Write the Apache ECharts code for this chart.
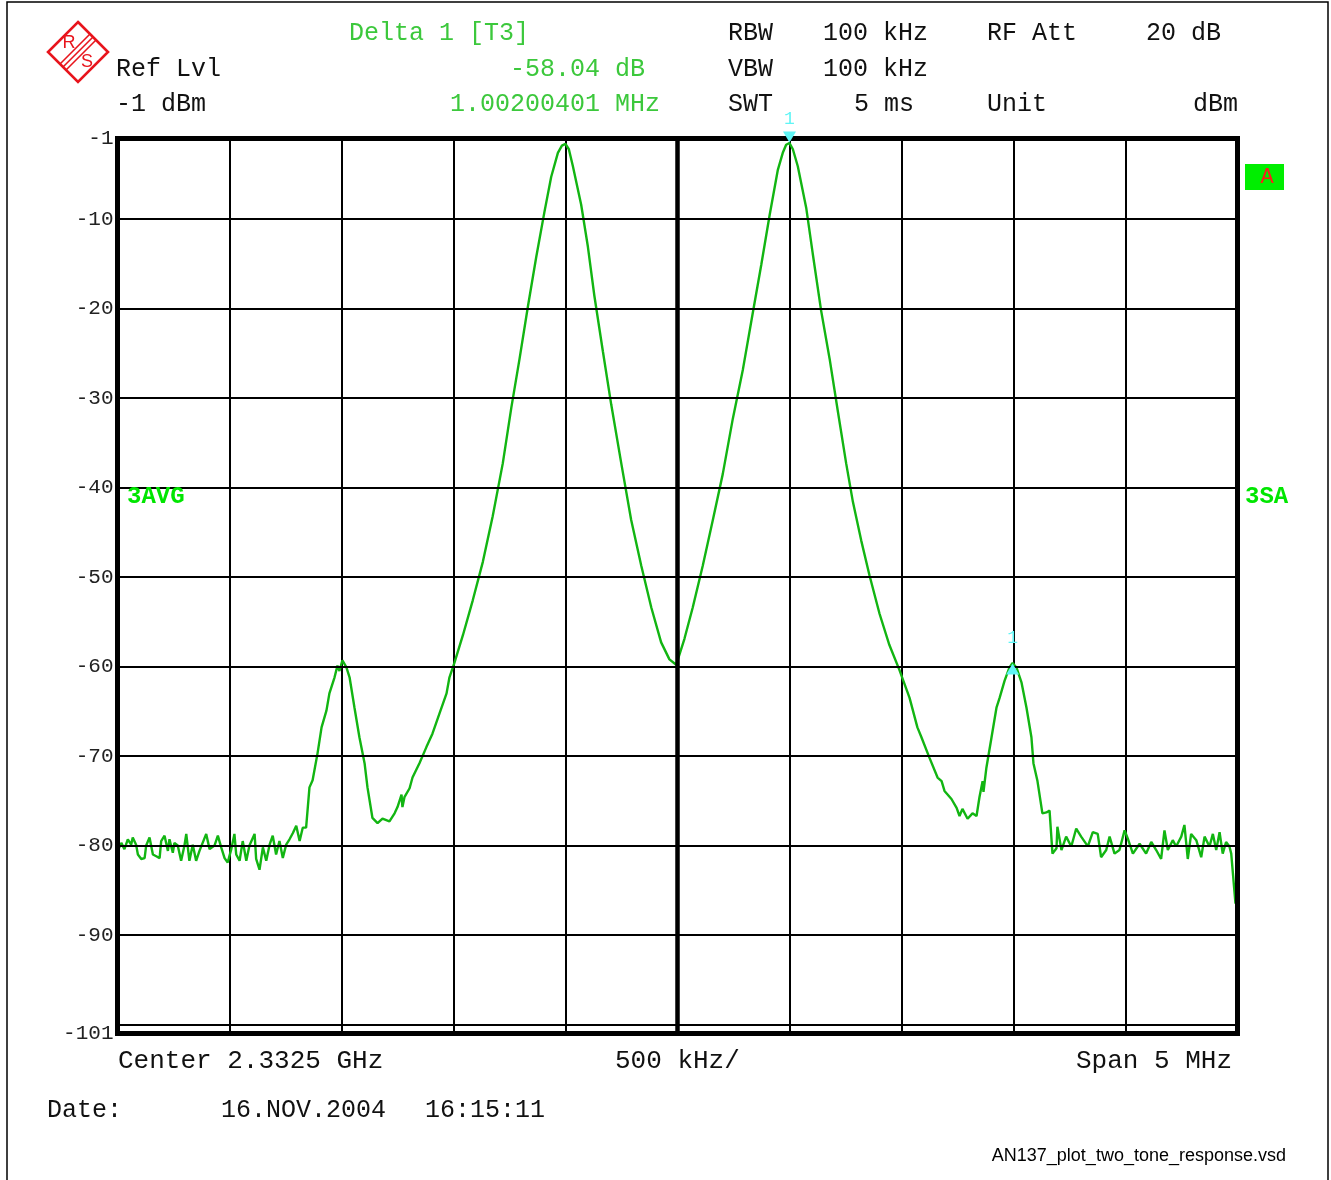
<!DOCTYPE html>
<html>
<head>
<meta charset="utf-8">
<script src="https://cdn.jsdelivr.net/npm/echarts@6/dist/echarts.min.js"></script>
<style>
html,body{margin:0;padding:0;background:#fff;}
#chart{width:1331px;height:1180px;}
</style>
</head>
<body>
<div id="chart"></div>
<script>
// ---- data (frequency offset from 2.330 GHz start, MHz ; level, dBm) ----
const freqOffsetMHz = [
0.001,0.017,0.031,0.046,0.061,0.068,0.083,0.091,0.106,0.121,0.128,0.143,0.158,0.173,0.188,0.195,0.210,0.225,0.232,0.247,
0.254,0.269,0.284,0.299,0.307,0.321,0.336,0.351,0.366,0.396,0.411,0.433,0.448,0.463,0.478,0.492,0.508,0.522,0.530,0.545,
0.559,0.575,0.589,0.612,0.619,0.634,0.649,0.664,0.679,0.693,0.708,0.723,0.738,0.753,0.768,0.783,0.798,0.813,0.827,0.842,
0.857,0.871,0.893,0.911,0.933,0.946,0.969,0.982,0.991,1.004,1.022,1.036,1.058,1.080,1.103,1.116,1.138,1.161,1.183,1.214,
1.237,1.250,1.268,1.272,1.281,1.304,1.317,1.348,1.379,1.406,1.438,1.469,1.482,1.504,1.542,1.586,1.631,1.675,1.720,1.758,
1.795,1.832,1.869,1.906,1.936,1.966,1.984,2.000,2.015,2.033,2.070,2.100,2.129,2.167,2.204,2.249,2.293,2.338,2.383,2.427,
2.464,2.494,2.500,2.531,2.568,2.613,2.658,2.702,2.747,2.792,2.836,2.874,2.911,2.948,2.970,2.985,3.000,3.015,3.037,3.075,
3.104,3.141,3.179,3.216,3.253,3.283,3.320,3.357,3.402,3.446,3.491,3.536,3.571,3.589,3.625,3.661,3.679,3.692,3.723,3.746,
3.759,3.772,3.795,3.817,3.835,3.848,3.862,3.866,3.879,3.902,3.924,3.938,3.960,3.982,3.996,4.013,4.036,4.058,4.080,4.089,
4.107,4.129,4.147,4.161,4.174,4.192,4.196,4.214,4.235,4.258,4.280,4.302,4.332,4.354,4.376,4.391,4.414,4.429,4.451,4.473,
4.496,4.510,4.533,4.563,4.592,4.615,4.637,4.659,4.674,4.689,4.711,4.726,4.749,4.763,4.778,4.793,4.816,4.838,4.853,4.875,
4.890,4.905,4.920,4.934,4.949,4.964,4.972,4.991
];
const levelDbm = [
-80.6,-79.7,-80.4,-79.3,-79.9,-79.1,-79.9,-81.0,-81.5,-81.4,-80.0,-79.1,-81.0,-81.2,-81.4,-79.5,-78.9,-80.6,-79.3,-80.8,
-79.7,-80.0,-81.7,-80.0,-78.7,-81.7,-79.9,-81.7,-80.6,-78.7,-80.4,-80.0,-78.9,-80.2,-81.4,-81.9,-80.4,-78.7,-81.0,-81.7,
-79.5,-81.7,-80.0,-78.7,-81.5,-82.7,-80.2,-81.7,-79.9,-78.9,-81.0,-79.5,-81.4,-79.9,-79.3,-78.6,-77.8,-79.5,-78.0,-78.0,
-73.5,-72.7,-69.7,-66.8,-64.9,-63.0,-61.2,-59.9,-60.5,-59.3,-60.1,-61.2,-64.6,-67.9,-70.8,-73.5,-76.9,-77.5,-77.0,-77.3,
-76.4,-75.7,-74.3,-75.7,-74.6,-73.6,-72.4,-70.8,-69.0,-67.5,-65.2,-63.0,-61.2,-59.6,-56.5,-52.6,-48.3,-43.2,-37.3,-31.1,
-25.6,-19.8,-14.3,-9.2,-5.3,-2.6,-1.8,-1.6,-2.2,-4.1,-8.4,-13.1,-18.6,-24.8,-30.7,-37.3,-43.6,-48.7,-53.4,-57.3,
-59.2,-59.8,-60.0,-56.9,-53.4,-48.7,-43.6,-38.5,-32.3,-26.8,-20.5,-15.1,-9.6,-4.5,-2.6,-1.7,-1.5,-2.2,-4.1,-8.8,
-13.9,-20.2,-25.6,-31.5,-37.3,-41.6,-45.9,-49.8,-54.1,-57.6,-60.4,-63.5,-66.8,-67.9,-70.2,-72.4,-72.8,-73.9,-74.8,-75.8,
-76.7,-75.9,-77.0,-76.4,-76.7,-74.6,-72.8,-74.0,-71.3,-67.9,-64.6,-63.5,-61.6,-60.1,-59.6,-60.1,-61.8,-64.6,-67.9,-70.8,
-72.8,-76.4,-76.3,-76.1,-80.9,-80.3,-77.9,-80.5,-79.0,-80.1,-78.1,-79.0,-80.1,-78.5,-78.7,-81.3,-80.5,-79.0,-80.9,-80.5,
-78.3,-79.2,-80.9,-79.8,-80.9,-79.6,-80.5,-81.5,-78.3,-80.5,-79.4,-80.1,-79.0,-77.7,-81.5,-78.7,-79.4,-81.3,-79.0,-80.1,
-78.7,-80.5,-78.5,-80.9,-79.6,-80.1,-80.9,-86.5
];
const yGridLines = [-10,-20,-30,-40,-50,-60,-70,-80,-90,-100];
const yTickLabels = [-1,-10,-20,-30,-40,-50,-60,-70,-80,-90,-101];
const markerTop = [3.000, -1.5];     // marker 1 (tone peak)
const markerDelta = [3.996, -59.6];  // delta marker (IM3 product)

const traceData = freqOffsetMHz.map((f, i) => [f, levelDbm[i]]);

const MONO = "'Liberation Mono','DejaVu Sans Mono',monospace";
const GREEN_TXT = '#3cc83c';
const TRACE = '#12b512';
const CYAN = '#5ff5f5';

function txt(x, y, text, opt) {
  opt = opt || {};
  return {
    type: 'text', x: x, y: y, z: 10,
    style: {
      text: text,
      fontFamily: opt.family || MONO,
      fontSize: opt.size || 25,
      fontWeight: opt.weight || 'normal',
      fill: opt.color || '#111',
      textAlign: opt.align || 'left',
      textVerticalAlign: 'middle'
    }
  };
}

const chart = echarts.init(document.getElementById('chart'), null, {renderer: 'canvas'});

const graphics = [
  // outer frame
  {type: 'rect', shape: {x: 7, y: 2, width: 1321, height: 1190}, style: {fill: 'none', stroke: '#000', lineWidth: 1.5}, z: 0},
  // R&S logo
  {type: 'polygon', shape: {points: [[78,22],[108,52],[78,82],[48,52]]}, style: {fill: 'none', stroke: '#e8141c', lineWidth: 2.6}, z: 10},
  {type: 'polyline', shape: {points: [[60,64],[90,34]]}, style: {stroke: '#e8141c', lineWidth: 1.6}, z: 10},
  {type: 'polyline', shape: {points: [[63,67],[93,37]]}, style: {stroke: '#e8141c', lineWidth: 1.6}, z: 10},
  {type: 'polyline', shape: {points: [[66,70],[96,40]]}, style: {stroke: '#e8141c', lineWidth: 1.6}, z: 10},
  txt(69, 43, 'R', {color: '#e8141c', size: 18, family: "'Liberation Sans',Arial,sans-serif", align: 'center'}),
  txt(87, 62, 'S', {color: '#e8141c', size: 18, family: "'Liberation Sans',Arial,sans-serif", align: 'center'}),
  // header
  txt(349, 33, 'Delta 1 [T3]', {color: GREEN_TXT}),
  txt(116, 69, 'Ref Lvl'),
  txt(645, 69, '-58.04 dB', {color: GREEN_TXT, align: 'right'}),
  txt(116, 104, '-1 dBm'),
  txt(660, 104, '1.00200401 MHz', {color: GREEN_TXT, align: 'right'}),
  txt(728, 33, 'RBW'),
  txt(823, 33, '100 kHz'),
  txt(987, 33, 'RF Att'),
  txt(1221, 33, '20 dB', {align: 'right'}),
  txt(728, 69, 'VBW'),
  txt(823, 69, '100 kHz'),
  txt(728, 104, 'SWT'),
  txt(914, 104, '5 ms', {align: 'right'}),
  txt(987, 104, 'Unit'),
  txt(1238, 104, 'dBm', {align: 'right'}),
  // trace labels
  txt(127, 497, '3AVG', {color: '#00e600', size: 24, weight: 'bold'}),
  txt(1245, 497, '3SA', {color: '#00e600', size: 24, weight: 'bold'}),
  {type: 'rect', shape: {x: 1245, y: 164, width: 39, height: 26}, style: {fill: '#00ee00'}, z: 10},
  txt(1267, 177, 'A', {color: '#ff1a1a', size: 22, align: 'center'}),
  // footer
  txt(118, 1061, 'Center 2.3325 GHz', {size: 26}),
  txt(615, 1061, '500 kHz/', {size: 26}),
  txt(1232, 1061, 'Span 5 MHz', {align: 'right', size: 26}),
  txt(47, 1110, 'Date:'),
  txt(221, 1110, '16.NOV.2004'),
  txt(425, 1110, '16:15:11'),
  txt(1286, 1156, 'AN137_plot_two_tone_response.vsd', {family: "'Liberation Sans',Arial,sans-serif", size: 18, color: '#000', align: 'right'})
];

const option = {
  animation: false,
  backgroundColor: '#fff',
  grid: {left: 117.5, top: 138.5, width: 1120, height: 895, show: true, borderColor: '#000', borderWidth: 5, backgroundColor: 'transparent', z: 5},
  xAxis: {
    type: 'value', min: 0, max: 5, interval: 0.5,
    axisLine: {show: false}, axisTick: {show: false}, axisLabel: {show: false},
    splitLine: {show: true, lineStyle: {color: '#000', width: 2}}
  },
  yAxis: {
    type: 'value', min: -101, max: -1,
    axisLine: {show: false}, axisTick: {show: false},
    splitLine: {show: false},
    axisLabel: {
      show: true, customValues: yTickLabels, margin: 4,
      fontFamily: MONO, fontSize: 21, color: '#222',
      formatter: v => String(v)
    }
  },
  graphic: graphics,
  series: [
    {
      name: 'grid', type: 'line', data: [], z: 1, silent: true,
      markLine: {
        silent: true, symbol: ['none', 'none'], animation: false,
        label: {show: false},
        lineStyle: {color: '#000', width: 2, type: 'solid'},
        data: yGridLines.map(v => ({yAxis: v})).concat([{xAxis: 2.5, lineStyle: {width: 4.5, color: '#000', type: 'solid'}}])
      }
    },
    {
      name: 'Trace 1', type: 'line', data: traceData, z: 3,
      showSymbol: false, symbol: 'none',
      lineStyle: {color: TRACE, width: 2.4},
      markPoint: {
        silent: true, animation: false,
        data: [
          {coord: markerTop, symbol: 'triangle', symbolRotate: 180, symbolSize: [13, 11], symbolOffset: [0, -6],
           itemStyle: {color: CYAN},
           label: {show: true, formatter: '1', position: 'top', distance: 3, color: CYAN, fontFamily: MONO, fontSize: 18}},
          {coord: markerDelta, symbol: 'triangle', symbolSize: [13, 11], symbolOffset: [0, 6],
           itemStyle: {color: CYAN},
           label: {show: true, formatter: '1', position: 'top', distance: 16, color: CYAN, fontFamily: MONO, fontSize: 18}}
        ]
      }
    }
  ]
};
chart.setOption(option);
</script>
</body>
</html>
